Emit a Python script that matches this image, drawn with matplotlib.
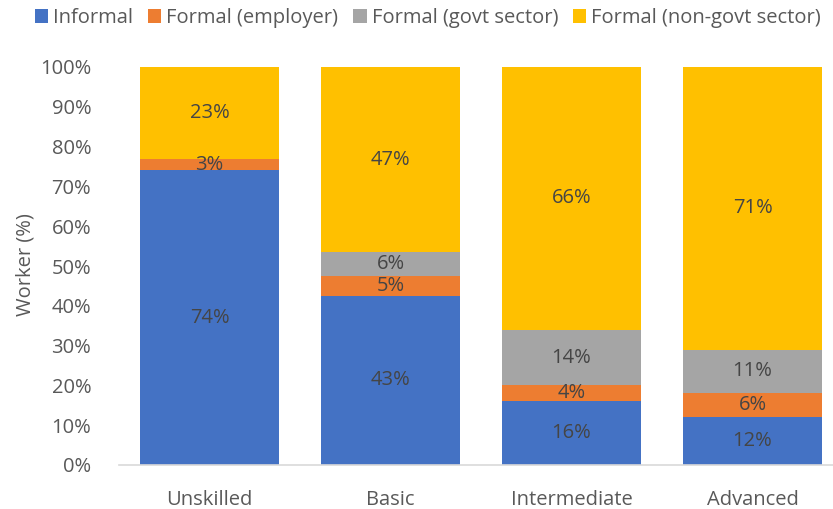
import matplotlib.pyplot as plt
import numpy as np
from matplotlib.patches import Patch

plt.rcParams['font.family'] = ['Open Sans', 'DejaVu Sans']

categories = ["Unskilled", "Basic", "Intermediate", "Advanced"]
series_names = ["Informal", "Formal (employer)", "Formal (govt sector)", "Formal (non-govt sector)"]
informal = [74, 43, 16, 12]
formal_employer = [3, 5, 4, 6]
formal_govt = [0, 6, 14, 11]
formal_nongovt = [23, 47, 66, 71]
colors = ["#4472C4", "#ED7D31", "#A5A5A5", "#FFC000"]
yticks = [0, 10, 20, 30, 40, 50, 60, 70, 80, 90, 100]

series = np.array([informal, formal_employer, formal_govt, formal_nongovt], dtype=float)
totals = series.sum(axis=0)
shares = series / totals * 100  # 100% stacked

fig = plt.figure(figsize=(8.33, 5.09), dpi=100)
ax = fig.add_axes([119 / 833, 1 - 465 / 509, (843 - 119) / 833, 398 / 509])

fs = 14.5
x = np.arange(len(categories))
bottom = np.zeros(len(categories))
text_color = "#454545"
for vals, pct, col in zip(series, shares, colors):
    ax.bar(x, pct, bottom=bottom, width=0.77, color=col, zorder=2)
    for xi, v, p, b in zip(x, vals, pct, bottom):
        if v > 0:
            ax.text(xi, b + p / 2, f"{int(v)}%", ha="center", va="center",
                    fontsize=fs, color=text_color, zorder=3)
    bottom += pct

ax.set_xlim(-0.5, len(categories) - 0.5)
ax.set_ylim(0, 100)
ax.set_yticks(yticks)
ax.set_yticklabels([f"{t}%" for t in yticks])
ax.set_xticks(x)
ax.set_xticklabels(categories)
ax.tick_params(axis="both", length=0, labelsize=fs, colors="#595959")
ax.tick_params(axis="y", pad=20)
ax.tick_params(axis="x", pad=18)
for side in ["top", "right", "left"]:
    ax.spines[side].set_visible(False)
ax.spines["bottom"].set_color("#D9D9D9")
ax.spines["bottom"].set_linewidth(1.2)

fig.text(25 / 833, 1 - 265 / 509, "Worker (%)", rotation=90, ha="center", va="center",
         fontsize=fs, color="#595959")

handles = [Patch(facecolor=c, edgecolor="none") for c in colors]
fig.legend(handles, series_names, loc="center", bbox_to_anchor=(428 / 833, 1 - 18 / 509),
           ncol=4, frameon=False, fontsize=fs, handlelength=0.65, handleheight=0.75,
           handletextpad=0.25, columnspacing=0.75, labelcolor="#595959")

fig.savefig("out.png", dpi=100)
